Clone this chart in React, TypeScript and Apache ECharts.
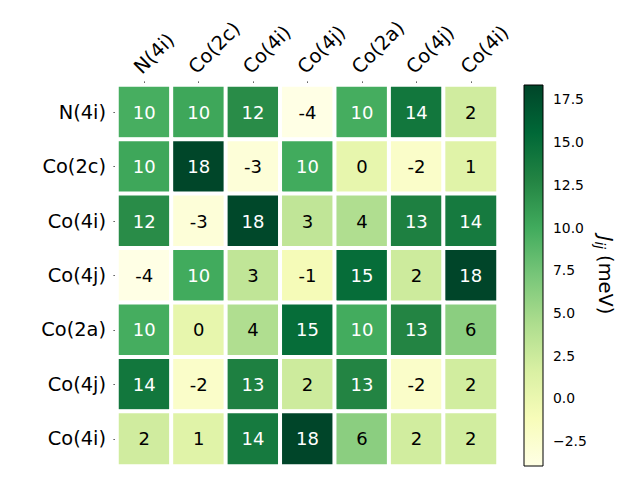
import React, { useEffect, useRef } from "react";
import * as echarts from "echarts";

const colLabels = ["N(4i)", "Co(2c)", "Co(4i)", "Co(4j)", "Co(2a)", "Co(4j)", "Co(4i)"];
const rowLabels = ["N(4i)", "Co(2c)", "Co(4i)", "Co(4j)", "Co(2a)", "Co(4j)", "Co(4i)"];

const row0 = [9.7, 10.3, 12.2, -3.95, 9.8, 14.1, 2.2];
const row1 = [10.3, 18.3, -3.1, 10.0, 0.3, -2.2, 1.0];
const row2 = [12.2, -3.1, 18.1, 3.2, 4.2, 13.2, 13.8];
const row3 = [-3.95, 10.0, 3.2, -1.0, 15.1, 2.4, 18.34];
const row4 = [9.8, 0.3, 4.2, 15.1, 9.9, 12.8, 6.2];
const row5 = [14.1, -2.2, 13.2, 2.4, 12.8, -2.2, 2.1];
const row6 = [2.2, 1.0, 13.8, 18.34, 6.2, 2.1, 2.1];
const matrix = [row0, row1, row2, row3, row4, row5, row6];

const vmin = -3.95;
const vmax = 18.34;
const colorbarTicks = [-2.5, 0, 2.5, 5, 7.5, 10, 12.5, 15, 17.5];

const YlGn = ["#ffffe5", "#f7fcb9", "#d9f0a3", "#addd8e", "#78c679", "#41ab5d", "#238443", "#006837", "#004529"];

const FONT = "DejaVu Sans";

export default function App() {
  const ref = useRef<HTMLDivElement>(null);
  useEffect(() => {
    if (!ref.current) return;
    const chart = echarts.init(ref.current, undefined, { renderer: "svg" });
    const heatData: number[][] = [];
    matrix.forEach((row, r) => row.forEach((v, c) => heatData.push([c, r, v])));

    const gradStops = YlGn.map((c, i) => ({ offset: i / (YlGn.length - 1), color: c }));

    chart.setOption({
      animation: false,
      backgroundColor: "#fff",
      textStyle: { fontFamily: FONT },
      grid: [
        { left: 117, top: 85, width: 381, height: 381 },
        { left: 524, top: 85, width: 19, height: 381 },
      ],
      xAxis: [
        {
          type: "category",
          gridIndex: 0,
          position: "top",
          data: colLabels.map((_, i) => String(i)),
          axisLine: { show: false },
          axisTick: { show: true, alignWithLabel: true, length: 3.5, lineStyle: { color: "#000", width: 0.8 } },
          axisLabel: {
            rotate: -45,
            margin: 8,
            fontSize: 19.4,
            color: "#000",
            fontFamily: FONT,
            align: "left",
            verticalAlign: "bottom",
            formatter: (_v: string, i: number) => colLabels[i],
          },
          splitLine: { show: false },
        },
        { type: "value", gridIndex: 1, min: 0, max: 1, show: false },
      ],
      yAxis: [
        {
          type: "category",
          gridIndex: 0,
          inverse: true,
          data: rowLabels.map((_, i) => String(i)),
          axisLine: { show: false },
          axisTick: { show: true, alignWithLabel: true, length: 3.5, lineStyle: { color: "#000", width: 0.8 } },
          axisLabel: {
            margin: 11,
            fontSize: 19.4,
            color: "#000",
            fontFamily: FONT,
            formatter: (_v: string, i: number) => rowLabels[i],
          },
          splitLine: { show: false },
        },
        {
          type: "value",
          gridIndex: 1,
          position: "right",
          min: vmin,
          max: vmax,
          axisLine: { show: false },
          splitLine: { show: false },
          axisTick: {
            show: true,
            length: 3.5,
            customValues: colorbarTicks,
            lineStyle: { color: "#000", width: 0.8 },
          },
          axisLabel: {
            margin: 10,
            fontSize: 13.9,
            color: "#000",
            fontFamily: FONT,
            customValues: colorbarTicks,
            formatter: (v: number) => (v < 0 ? "\u2212" + Math.abs(v).toFixed(1) : v.toFixed(1)),
          },
        },
      ],
      visualMap: {
        type: "continuous",
        show: false,
        min: vmin,
        max: vmax,
        seriesIndex: 0,
        dimension: 2,
        inRange: { color: YlGn },
      },
      graphic: [
        {
          type: "text",
          x: 605,
          y: 275,
          rotation: -Math.PI / 2,
          style: {
            text: "{i|J}{s|ij} (meV)",
            align: "center",
            verticalAlign: "middle",
            fill: "#000",
            fontFamily: FONT,
            fontSize: 19.4,
            rich: {
              i: { fontSize: 19.4, fontStyle: "italic", fontFamily: FONT, fill: "#000" },
              s: { fontSize: 13.5, fontStyle: "italic", fontFamily: FONT, fill: "#000", verticalAlign: "bottom", padding: [10, 0, 0, 0] },
            },
          },
        },
      ],
      series: [
        {
          type: "heatmap",
          xAxisIndex: 0,
          yAxisIndex: 0,
          data: heatData,
          itemStyle: { borderColor: "#fff", borderWidth: 4 },
          emphasis: { disabled: true },
          label: {
            show: true,
            fontFamily: FONT,
            fontSize: 18,
            formatter: (p: any) => {
              const v = p.value[2];
              const t = Math.round(v);
              return v > 8 ? `{w|${t}}` : `{b|${t}}`;
            },
            rich: {
              w: { color: "#fff", fontSize: 18, fontFamily: FONT },
              b: { color: "#000", fontSize: 18, fontFamily: FONT },
            },
          },
        },
        {
          type: "custom",
          xAxisIndex: 1,
          yAxisIndex: 1,
          data: [[0, vmin, vmax]],
          renderItem: (params: any, api: any) => {
            const top = api.coord([0, api.value(2)]);
            const bot = api.coord([0, api.value(1)]);
            const cs = params.coordSys;
            return {
              type: "rect",
              shape: { x: cs.x, y: top[1], width: cs.width, height: bot[1] - top[1] },
              style: {
                fill: new echarts.graphic.LinearGradient(0, 1, 0, 0, gradStops),
                stroke: "#000",
                lineWidth: 1,
              },
            };
          },
        },
      ],
    });
    return () => chart.dispose();
  }, []);
  return <div ref={ref} style={{ position: "fixed", left: 0, top: 0, width: 640, height: 480 }} />;
}
